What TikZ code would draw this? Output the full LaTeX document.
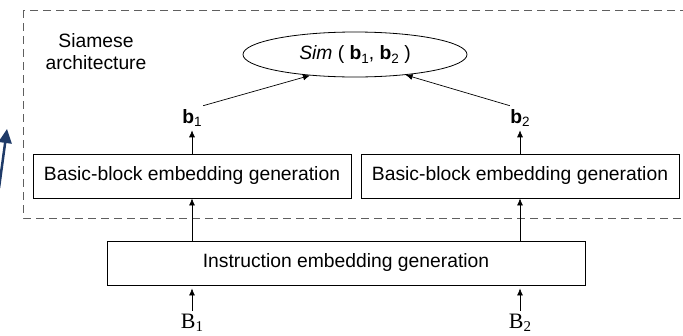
\documentclass[tikz,border=0pt]{standalone}
\usepackage{fontspec}
\setmainfont{Liberation Sans}
\newfontfamily\timesfont{Liberation Serif}
\usetikzlibrary{arrows.meta,shapes.geometric}

\definecolor{framegray}{HTML}{5F5F5F}
\definecolor{navyarrow}{HTML}{1F3A68}

% bold vector with a lowered index
\newcommand{\bvec}[1]{\textbf{b}\raisebox{-0.35ex}{\fontsize{13.5}{14}\selectfont #1}}
% serif block name
\newcommand{\blk}[1]{{\timesfont\fontsize{22}{23}\selectfont B\raisebox{-0.35ex}{\fontsize{15}{15}\selectfont #1}}}

\tikzset{
  every node/.style={font=\fontsize{19.3}{22}\selectfont},
  box/.style={draw, line width=0.8pt, minimum height=44pt, inner sep=0pt},
  arr/.style={-{Latex[length=7pt,width=6pt]}, line width=0.7pt},
}

\begin{document}
\begin{tikzpicture}[x=1pt, y=-1pt]
        \useasboundingbox (0,0) rectangle (683,335);

        % Siamese part (frame runs past the right border)
        \draw[framegray, line width=1pt, dash pattern=on 8pt off 5pt] (23,10) rectangle (700,218);
        \node[align=center, inner sep=0pt] (siam) at (96,52) {Siamese\\architecture};

        % Similarity
        \node[draw, ellipse, line width=0.8pt, minimum width=224pt, minimum height=45pt, inner sep=0pt] (sim) at (355,54.5)
            {\textit{Sim} ( \bvec{1}, \bvec{2} )};

        % Embedding vectors
        \node (b1) at (192,118) {\bvec{1}};
        \node (b2) at (520,118) {\bvec{2}};

        % Basic-block embedding (2 branches)
        \foreach \i/\x in {1/192, 2/520} {
            \node[box, minimum width=318pt] (bb\i) at (\x,176) {Basic-block embedding generation};
        }

        % Instruction embedding
        \node[box, minimum width=478pt] (inst) at (346,263) {Instruction embedding generation};

        % Inputs
        \node (B1) at (192,323) {\blk{1}};
        \node (B2) at (520,323) {\blk{2}};

        % Connections
        \foreach \i in {1, 2} {
            \draw[arr, shorten <=0pt, shorten >=3pt] (B\i.north) -- (B\i.north |- inst.south);
            \draw[arr] (bb\i.south |- inst.north) -- (bb\i.south);
            \draw[arr] (bb\i.north) -- (b\i.south);
        }
        \draw[arr] ([xshift=-2pt]b1.north east) -- (sim.205);
        \draw[arr] ([xshift=3pt]b2.north west) -- (sim.-22);

        % arrow cut by the left border
        \coordinate (tail) at (-1,188);
        \coordinate (head) at (7,129);
        \draw[navyarrow, line width=2.5pt, -{Triangle[length=14pt,width=13pt]}] (tail) -- (head);
    \end{tikzpicture}
\end{document}
